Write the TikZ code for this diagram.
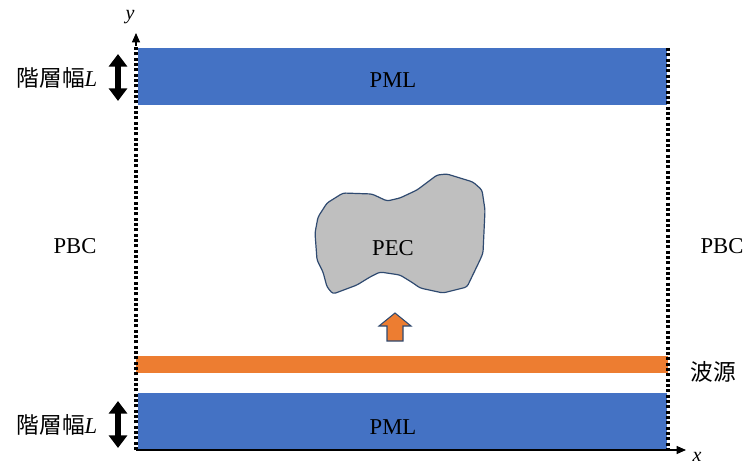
\documentclass[tikz,border=0pt]{standalone}
\usepackage{fontspec}
\setmainfont{Liberation Serif}
\newfontfamily\cjkfont{Noto Sans CJK JP}
\usetikzlibrary{arrows.meta}
\definecolor{pmlblue}{HTML}{4472C4}
\definecolor{srcorange}{HTML}{ED7D31}
\definecolor{pecgray}{HTML}{BFBFBF}
\definecolor{pecedge}{HTML}{2F4A70}
\tikzset{
  lbl/.style={font=\fontsize{17}{20}\selectfont, inner sep=0pt},
  pmlbox/.style={fill=pmlblue, draw=none, minimum width=396.75pt, minimum height=42.75pt, inner sep=0pt},
  srcbox/.style={fill=srcorange, draw=none, minimum width=399pt, minimum height=12.75pt, inner sep=0pt},
  bound/.style={line width=2.4pt, dash pattern=on 2.2pt off 1.8pt},
  axisarrow/.style={line width=0.8pt, -{Triangle[width=6pt,length=7pt]}},
  widtharrow/.style={line width=4.3pt, {Triangle[width=13.5pt,length=9.5pt]}-{Triangle[width=13.5pt,length=9.5pt]}},
}
\begin{document}
\begin{tikzpicture}[x=0.75pt,y=-0.75pt]
\useasboundingbox (0,0) rectangle (745,466);
% layers
\node[pmlbox] (pmltop) at (402.5,76.5) {};
\node[pmlbox] (pmlbot) at (402.5,421) {};
\node[srcbox] (src) at (402,364.5) {};
\node[lbl] (pmltoplbl) at (393,80) {PML};
\node[lbl] (pmlbotlbl) at (393,427) {PML};
% boundaries / axes
\coordinate (origin) at (136,450);
\coordinate (ytip) at (136,33);
\coordinate (xtip) at (686,450);
\coordinate (rtop) at (668,48);
\coordinate (rbot) at (668,450);
\draw[bound] (origin) -- (136,46);
\draw[axisarrow] (136,46) -- (ytip);
\draw[bound] (rtop) -- (rbot);
\draw[axisarrow] (origin) -- (xtip);
\node[lbl, font=\fontsize{15}{18}\selectfont\itshape] (ylbl) at (130,17) {y};
\node[lbl, font=\fontsize{15}{18}\selectfont\itshape, anchor=north] (xlbl) at (697,452) {x};
% PEC
\draw[fill=pecgray, draw=pecedge, line width=0.9pt, rounded corners=2pt]
 (343,193) -- (372,194) -- (387,201) -- (400,198) -- (417,190) -- (437,175)
 -- (447,174) -- (473,182) -- (482,190) -- (485,210) -- (483,253) -- (480,260)
 -- (467,287) -- (443,293) -- (420,288) -- (413,283) -- (400,275) -- (380,272)
 -- (370,277) -- (357,285) -- (333,294) -- (327,287) -- (323,272) -- (317,260)
 -- (315,233) -- (318,217) -- (327,203) -- cycle;
\node[lbl] (pec) at (393,248) {PEC};
% orange arrow
\draw[fill=srcorange, draw=pecedge, line width=0.8pt, line join=miter]
 (395,313) -- (411,326) -- (403,326) -- (403,341) -- (387,341) -- (387,326) -- (379,326) -- cycle;
% labels
\node[lbl] (pbcl) at (75,246) {PBC};
\node[lbl] (pbcr) at (722,246) {PBC};
\node[lbl, font=\fontsize{17}{20}\selectfont\cjkfont] (srclbl) at (713,372) {波源};
\node[lbl] (ltop) at (57,78) {{\cjkfont 階層幅}\textit{L}};
\node[lbl] (lbot) at (57,425) {{\cjkfont 階層幅}\textit{L}};
\coordinate (a1) at (118,54);
\coordinate (a2) at (118,101);
\coordinate (b1) at (118,401);
\coordinate (b2) at (118,448);
\draw[widtharrow] (a1) -- (a2);
\draw[widtharrow] (b1) -- (b2);
\end{tikzpicture}
\end{document}
